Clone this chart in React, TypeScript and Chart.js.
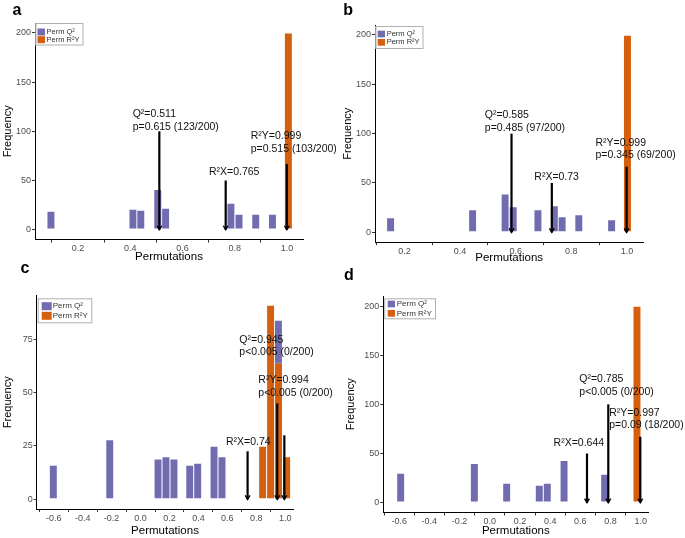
import React, { useEffect, useRef } from "react";
import { Chart, registerables } from "chart.js";
Chart.register(...registerables);

const PURPLE = "#716CB0";
const ORANGE = "#D45F0F";
const FAMILY = "'Liberation Sans', Arial, Helvetica, sans-serif";

// ---------- Panel a ----------
const aQ2Bins = [0.096, 0.41, 0.44, 0.505, 0.535, 0.785, 0.816, 0.88, 0.944];
const aQ2Counts = [19, 21, 20, 41, 22, 27, 16, 16, 16];
const aR2YBins = [1.005];
const aR2YCounts = [200];
const aXTicks = [0.2, 0.4, 0.6, 0.8, 1.0];
const aYTicks = [0, 50, 100, 150, 200];
const aArrowX = [0.511, 0.765, 0.999];
const aArrowTop = [100, 50, 66.7];
const aLabelText = ["Q²=0.511", "p=0.615 (123/200)", "R²X=0.765", "R²Y=0.999", "p=0.515 (103/200)"];
const aLabelX = [0.409, 0.409, 0.701, 0.861, 0.861];
const aLabelY = [117.7, 104, 58.2, 95.6, 82];

// ---------- Panel b ----------
const bQ2Bins = [0.15, 0.445, 0.562, 0.591, 0.68, 0.739, 0.767, 0.827, 0.945];
const bQ2Counts = [15, 23, 39, 26, 23, 27, 16, 18, 13];
const bR2YBins = [1.002];
const bR2YCounts = [200];
const bXTicks = [0.2, 0.4, 0.6, 0.8, 1.0];
const bYTicks = [0, 50, 100, 150, 200];
const bArrowX = [0.585, 0.73, 0.999];
const bArrowTop = [100, 50, 66.5];
const bLabelText = ["Q²=0.585", "p=0.485 (97/200)", "R²X=0.73", "R²Y=0.999", "p=0.345 (69/200)"];
const bLabelX = [0.489, 0.489, 0.667, 0.887, 0.887];
const bLabelY = [118.9, 105.4, 56.4, 90.9, 78];

// ---------- Panel c ----------
const cQ2Bins = [-0.603, -0.213, 0.121, 0.176, 0.231, 0.34, 0.395, 0.508, 0.563, 0.953];
const cQ2Counts = [16, 28, 19, 20, 19, 16, 17, 25, 20, 84];
const cR2YBins = [0.844, 0.899, 0.953, 1.01];
const cR2YCounts = [25, 91, 64, 20];
const cXTicks = [-0.6, -0.4, -0.2, 0.0, 0.2, 0.4, 0.6, 0.8, 1.0];
const cYTicks = [0, 25, 50, 75];
const cArrowX = [0.945, 0.994, 0.74];
const cArrowTop = [45, 30, 22.5];
const cLabelText = ["Q²=0.945", "p<0.005 (0/200)", "R²Y=0.994", "p<0.005 (0/200)", "R²X=0.74"];
const cLabelX = [0.683, 0.683, 0.814, 0.814, 0.591];
const cLabelY = [74.5, 68.8, 55.9, 49.7, 26.6];

// ---------- Panel d ----------
const dQ2Bins = [-0.59, -0.102, 0.112, 0.328, 0.381, 0.492, 0.761];
const dQ2Counts = [30, 40, 20, 18, 20, 43, 29];
const dR2YBins = [0.975];
const dR2YCounts = [200];
const dXTicks = [-0.6, -0.4, -0.2, 0.0, 0.2, 0.4, 0.6, 0.8, 1.0];
const dYTicks = [0, 50, 100, 150, 200];
const dArrowX = [0.785, 0.997, 0.644];
const dArrowTop = [100, 67, 50];
const dLabelText = ["Q²=0.785", "p<0.005 (0/200)", "R²Y=0.997", "p=0.09 (18/200)", "R²X=0.644"];
const dLabelX = [0.593, 0.593, 0.791, 0.791, 0.423];
const dLabelY = [125.8, 112.2, 91.5, 78.6, 61];

type PanelCfg = {
  letter: string;
  q2x: number[]; q2y: number[]; r2x: number[]; r2y: number[];
  xTicks: number[]; yTicks: number[];
  arrowX: number[]; arrowTop: number[];
  labelText: string[]; labelX: number[]; labelY: number[];
  xMin: number; xMax: number; yMin: number; yMax: number;
  left: number; top: number; w: number; h: number;
  padTop: number; padRight: number; yW: number; xH: number;
  xTitlePad: number; yTitlePad: number;
  letterX: number; letterY: number;
  leg: { x: number; y: number; w: number; h: number; sqX: number; sqW: number; sqH: number; rows: number[]; textX: number; font: number };
};

const panels: PanelCfg[] = [
  {
    letter: "a", q2x: aQ2Bins, q2y: aQ2Counts, r2x: aR2YBins, r2y: aR2YCounts,
    xTicks: aXTicks, yTicks: aYTicks, arrowX: aArrowX, arrowTop: aArrowTop,
    labelText: aLabelText, labelX: aLabelX, labelY: aLabelY,
    xMin: 0.035, xMax: 1.061, yMin: -10, yMax: 210,
    left: 0, top: 0, w: 340, h: 268, padTop: 23, padRight: 37, yW: 35, xH: 28.4,
    xTitlePad: 4.1, yTitlePad: 0.9, letterX: 12.5, letterY: 15,
    leg: { x: 35.5, y: 23, w: 48, h: 22.5, sqX: 37.5, sqW: 7.5, sqH: 7, rows: [32, 39.7], textX: 46.5, font: 7.5 },
  },
  {
    letter: "b", q2x: bQ2Bins, q2y: bQ2Counts, r2x: bR2YBins, r2y: bR2YCounts,
    xTicks: bXTicks, yTicks: bYTicks, arrowX: bArrowX, arrowTop: bArrowTop,
    labelText: bLabelText, labelX: bLabelX, labelY: bLabelY,
    xMin: 0.094, xMax: 1.059, yMin: -10, yMax: 210,
    left: 340, top: 0, w: 345, h: 268, padTop: 25.1, padRight: 41.7, yW: 35, xH: 25.8,
    xTitlePad: 3.6, yTitlePad: 0.9, letterX: 3.3, letterY: 15,
    leg: { x: 35.5, y: 26, w: 48, h: 23, sqX: 37.7, sqW: 7.3, sqH: 6.7, rows: [34, 42.3], textX: 46.7, font: 7.5 },
  },
  {
    letter: "c", q2x: cQ2Bins, q2y: cQ2Counts, r2x: cR2YBins, r2y: cR2YCounts,
    xTicks: cXTicks, yTicks: cYTicks, arrowX: cArrowX, arrowTop: cArrowTop,
    labelText: cLabelText, labelX: cLabelX, labelY: cLabelY,
    xMin: -0.718, xMax: 1.056, yMin: -4.55, yMax: 95.55,
    left: 0, top: 256, w: 340, h: 282, padTop: 39.5, padRight: 46.7, yW: 36.7, xH: 29,
    xTitlePad: 0.2, yTitlePad: 1.4, letterX: 20.5, letterY: 16.5,
    leg: { x: 37.7, y: 42.3, w: 54.6, h: 25, sqX: 41.7, sqW: 10, sqH: 8, rows: [50.2, 59.8], textX: 52.7, font: 8 },
  },
  {
    letter: "d", q2x: dQ2Bins, q2y: dQ2Counts, r2x: dR2YBins, r2y: dR2YCounts,
    xTicks: dXTicks, yTicks: dYTicks, arrowX: dArrowX, arrowTop: dArrowTop,
    labelText: dLabelText, labelX: dLabelX, labelY: dLabelY,
    xMin: -0.705, xMax: 1.05, yMin: -10, yMax: 210,
    left: 340, top: 256, w: 345, h: 282, padTop: 40.2, padRight: 36.7, yW: 43.3, xH: 25.5,
    xTitlePad: 0.2, yTitlePad: 3.9, letterX: 4, letterY: 24,
    leg: { x: 44.3, y: 42.3, w: 51.7, h: 21, sqX: 47.7, sqW: 7.3, sqH: 6.7, rows: [48, 57.3], textX: 56.7, font: 8 },
  },
];

function Panel({ cfg }: { cfg: PanelCfg }) {
  const ref = useRef<HTMLCanvasElement>(null);
  useEffect(() => {
    const canvas = ref.current;
    if (!canvas) return;
    const overlay = {
      id: "overlay",
      afterDatasetsDraw(chart: any) {
        const { ctx } = chart;
        const x = chart.scales.x;
        const y = chart.scales.y;
        ctx.save();
        ctx.strokeStyle = "#000";
        cfg.arrowX.forEach((ax, i) => {
          const px = x.getPixelForValue(ax);
          const pt = y.getPixelForValue(cfg.arrowTop[i]);
          const pb = y.getPixelForValue(0);
          ctx.lineWidth = 2.2;
          ctx.lineCap = "butt";
          ctx.beginPath();
          ctx.moveTo(px, pt);
          ctx.lineTo(px, pb);
          ctx.stroke();
          ctx.lineWidth = 1.4;
          ctx.beginPath();
          ctx.moveTo(px - 2.4, pb - 4);
          ctx.lineTo(px, pb);
          ctx.lineTo(px + 2.4, pb - 4);
          ctx.stroke();
        });
        ctx.fillStyle = "#111";
        ctx.font = `10.5px ${FAMILY}`;
        ctx.textAlign = "left";
        ctx.textBaseline = "middle";
        cfg.labelText.forEach((t, i) => {
          ctx.fillText(t, x.getPixelForValue(cfg.labelX[i]), y.getPixelForValue(cfg.labelY[i]));
        });
        const L = cfg.leg;
        ctx.fillStyle = "#fff";
        ctx.fillRect(L.x, L.y, L.w, L.h);
        ctx.strokeStyle = "#B0B0B0";
        ctx.lineWidth = 1;
        ctx.strokeRect(L.x + 0.5, L.y + 0.5, L.w - 1, L.h - 1);
        ctx.font = `${L.font}px ${FAMILY}`;
        ctx.textBaseline = "middle";
        chart.data.datasets.forEach((ds: any, i: number) => {
          const cy = L.rows[i];
          ctx.fillStyle = ds.backgroundColor;
          ctx.fillRect(L.sqX, cy - L.sqH / 2, L.sqW, L.sqH);
          ctx.fillStyle = "#333";
          ctx.fillText(ds.label, L.textX, cy);
        });
        ctx.restore();
      },
      afterDraw(chart: any) {
        const { ctx } = chart;
        ctx.save();
        ctx.fillStyle = "#000";
        ctx.font = `bold 16px ${FAMILY}`;
        ctx.textAlign = "left";
        ctx.textBaseline = "alphabetic";
        ctx.fillText(cfg.letter, cfg.letterX, cfg.letterY);
        ctx.restore();
      },
    };

    const barCommon = {
      borderColor: "rgba(255,255,255,0.3)",
      borderWidth: 1,
      borderSkipped: false,
      barThickness: 8.3,
      grouped: false,
    };

    const chart = new Chart(canvas, {
      type: "bar",
      data: {
        datasets: [
          {
            label: "Perm Q²",
            data: cfg.q2x.map((v, i) => ({ x: v, y: cfg.q2y[i] })),
            backgroundColor: PURPLE,
            order: 1,
            ...barCommon,
          } as any,
          {
            label: "Perm R²Y",
            data: cfg.r2x.map((v, i) => ({ x: v, y: cfg.r2y[i] })),
            backgroundColor: ORANGE,
            order: 0,
            ...barCommon,
          } as any,
        ],
      },
      options: {
        animation: false,
        responsive: false,
        devicePixelRatio: 1,
        events: [],
        layout: { padding: { top: cfg.padTop, right: cfg.padRight, left: 0, bottom: 0 } },
        plugins: { legend: { display: false }, tooltip: { enabled: false }, title: { display: false } },
        scales: {
          x: {
            type: "linear",
            min: cfg.xMin,
            max: cfg.xMax,
            offset: false,
            afterBuildTicks: (s: any) => {
              s.ticks = cfg.xTicks.map((v) => ({ value: v }));
            },
            afterFit: (s: any) => {
              s.height = cfg.xH;
            },
            ticks: {
              autoSkip: false,
              maxRotation: 0,
              minRotation: 0,
              padding: 1,
              color: "#4D4D4D",
              font: { family: FAMILY, size: 9 },
              callback: (v: any) => Number(v).toFixed(1),
            },
            grid: { display: true, drawOnChartArea: false, drawTicks: true, tickLength: 3, color: "#333", lineWidth: 1 },
            border: { display: true, color: "#000", width: 1 },
            title: {
              display: true,
              text: "Permutations",
              color: "#000",
              font: { family: FAMILY, size: 11.5 },
              padding: { top: 0, bottom: cfg.xTitlePad },
            },
          },
          y: {
            type: "linear",
            min: cfg.yMin,
            max: cfg.yMax,
            afterBuildTicks: (s: any) => {
              s.ticks = cfg.yTicks.map((v) => ({ value: v }));
            },
            afterFit: (s: any) => {
              s.width = cfg.yW;
            },
            ticks: {
              autoSkip: false,
              padding: 1,
              color: "#4D4D4D",
              font: { family: FAMILY, size: 9 },
              callback: (v: any) => String(v),
            },
            grid: { display: true, drawOnChartArea: false, drawTicks: true, tickLength: 3, color: "#333", lineWidth: 1 },
            border: { display: true, color: "#000", width: 1 },
            title: {
              display: true,
              text: "Frequency",
              color: "#000",
              font: { family: FAMILY, size: 11 },
              padding: { top: cfg.yTitlePad, bottom: 0 },
            },
          },
        },
      } as any,
      plugins: [overlay],
    });
    return () => chart.destroy();
  }, [cfg]);

  return (
    <div style={{ position: "absolute", left: cfg.left, top: cfg.top, width: cfg.w, height: cfg.h }}>
      <canvas ref={ref} width={cfg.w} height={cfg.h} style={{ width: cfg.w, height: cfg.h, display: "block" }} />
    </div>
  );
}

export default function App() {
  return (
    <div style={{ position: "fixed", left: 0, top: 0, width: 685, height: 538, background: "#fff", overflow: "hidden" }}>
      {panels.map((p) => (
        <Panel key={p.letter} cfg={p} />
      ))}
    </div>
  );
}
